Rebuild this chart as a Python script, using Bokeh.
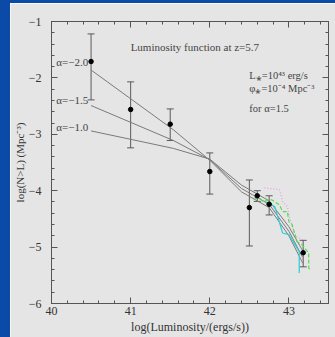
from bokeh.plotting import figure
from bokeh.models import (LinearAxis, SingleIntervalTicker, Whisker, TeeHead,
                          ColumnDataSource, Range1d, Spacer)
from bokeh.layouts import row, column
from bokeh.core.properties import value
from bokeh.embed import file_html
from bokeh.resources import INLINE

# ---- data ----
lum = [40.5, 41.0, 41.5, 42.0, 42.5, 42.6, 42.75, 43.18]
logn = [-1.71, -2.56, -2.82, -3.66, -4.30, -4.09, -4.24, -5.10]
err_hi = [-1.22, -2.07, -2.55, -3.33, -3.81, -4.00, -4.09, -4.88]
err_lo = [-2.39, -3.24, -3.11, -4.06, -4.98, -4.19, -4.43, -5.35]

curve_x = [40.5, 41.54, 42.0, 42.4, 42.75, 43.0, 43.18]
curve_a20 = [-1.86, -2.92, -3.46, -4.02, -4.30, -4.80, -5.30]
curve_a15 = [-2.49, -3.11, -3.45, -3.96, -4.24, -4.72, -5.20]
curve_a10 = [-2.94, -3.25, -3.44, -3.90, -4.18, -4.64, -5.08]

mag_x = [42.69, 42.88, 42.90, 42.92, 42.98, 43.00, 43.04, 43.09, 43.17, 43.17]
mag_y = [-3.95, -3.98, -4.07, -4.19, -4.28, -4.43, -4.63, -4.81, -4.87, -5.31]
grn_x = [42.56, 42.63, 42.67, 42.78, 42.88, 42.92, 42.98, 43.00, 43.04, 43.10, 43.17, 43.25, 43.25, 43.27]
grn_y = [-4.13, -4.13, -4.19, -4.16, -4.25, -4.37, -4.37, -4.55, -4.60, -4.90, -4.96, -5.11, -5.37, -5.40]
cyn_x = [42.71, 42.82, 42.92, 43.00, 43.13, 43.13]
cyn_y = [-4.22, -4.28, -4.75, -4.78, -5.08, -5.46]

x_ticks = [40, 41, 42, 43]
y_ticks = [-6, -5, -4, -3, -2, -1]

alpha_labels = ["α=−2.0", "α=−1.5", "α=−1.0"]
alpha_label_y = [-1.71, -2.39, -2.87]

title_text = "Luminosity function at z=5.7"
param_texts = ["L⁎=10⁴³ erg/s", "φ⁎=10⁻⁴ Mpc⁻³", "for α=1.5"]
param_y = [-1.95, -2.19, -2.55]

BLUE = "#0b4aa6"
GRAY = "#e5e5e5"
INK = "#555555"
FONT = "Liberation Serif"

p = figure(width=325, height=334, output_backend="svg", toolbar_location=None,
           x_range=Range1d(40, 43.5), y_range=Range1d(-6, -1),
           background_fill_color=GRAY, border_fill_color=GRAY,
           min_border_left=36, min_border_right=7, min_border_top=18,
           min_border_bottom=34, x_axis_label="log(Luminosity/(ergs/s))",
           y_axis_label="log(N>L) (Mpc⁻³)")
p.grid.visible = False
p.outline_line_color = INK

def style_axis(ax, ticks, show_labels):
    ax.ticker = SingleIntervalTicker(interval=1, num_minor_ticks=5)
    ax.axis_line_color = INK
    ax.major_tick_line_color = INK
    ax.minor_tick_line_color = INK
    ax.major_tick_in = 6
    ax.major_tick_out = 0
    ax.minor_tick_in = 3
    ax.minor_tick_out = 0
    if show_labels:
        ax.major_label_overrides = {t: str(t).replace("-", "−") for t in ticks}
        ax.major_label_text_font = FONT
        ax.major_label_text_font_size = "12px"
        ax.major_label_text_color = "#333333"
        ax.axis_label_text_font = FONT
        ax.axis_label_text_font_style = "normal"
        ax.axis_label_text_color = "#333333"
    else:
        ax.major_label_overrides = {t: "" for t in ticks}
        ax.major_label_standoff = 0

style_axis(p.xaxis[0], x_ticks, True)
style_axis(p.yaxis[0], y_ticks, True)
p.xaxis[0].major_label_standoff = 3
p.xaxis[0].axis_label_standoff = 2
p.xaxis[0].axis_label_text_font_size = "12px"
p.yaxis[0].major_label_standoff = 10
p.yaxis[0].axis_label_standoff = 0
p.yaxis[0].axis_label_text_font_size = "11px"

top = LinearAxis()
right = LinearAxis()
style_axis(top, x_ticks, False)
style_axis(right, y_ticks, False)
p.add_layout(top, "above")
p.add_layout(right, "right")

# model curves
for ys in (curve_a20, curve_a15, curve_a10):
    p.line(curve_x, ys, line_color="#7a7a7a", line_width=1)

# simulated curves
p.line(mag_x, mag_y, line_color="#e59ae8", line_width=1.2, line_dash="1 2")
p.line(grn_x, grn_y, line_color="#4ee04e", line_width=1.2, line_dash="4 2")
p.line(cyn_x, cyn_y, line_color="#2ccfd6", line_width=1.2)

# data with error bars
src = ColumnDataSource(dict(x=lum, y=logn, hi=err_hi, lo=err_lo))
w = Whisker(base="x", upper="hi", lower="lo", source=src,
            line_color="#5a5a5a", line_width=1,
            upper_head=TeeHead(size=7, line_color="#5a5a5a", line_width=1),
            lower_head=TeeHead(size=7, line_color="#5a5a5a", line_width=1))
p.add_layout(w)
p.scatter("x", "y", source=src, size=4.5, color="black")

# labels
p.text(x=[40.06] * 3, y=alpha_label_y, text=alpha_labels,
       text_font=value(FONT), text_font_size="11px", text_color="#444444",
       text_baseline="middle", text_align="left")
p.text(x=[41.0], y=[-1.45], text=[title_text], text_font=value(FONT),
       text_font_size="11px", text_color="#444444",
       text_baseline="middle", text_align="left")
p.text(x=[42.5] * 3, y=param_y, text=param_texts, text_font=value(FONT),
       text_font_size="10.5px", text_color="#444444",
       text_baseline="middle", text_align="left")

layout = row(Spacer(width=10, height=337, styles={"background-color": BLUE}),
             column(Spacer(width=325, height=3, styles={"background-color": BLUE}), p))

open("out.html", "w").write(file_html(layout, INLINE))
